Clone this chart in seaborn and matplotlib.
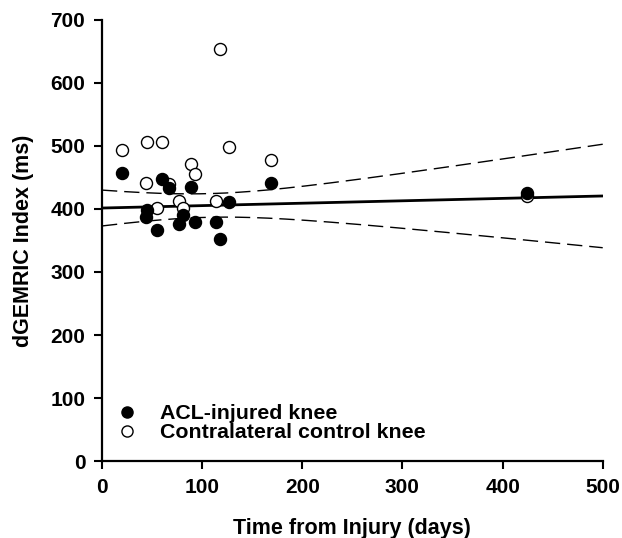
import numpy as np
import matplotlib
matplotlib.use("Agg")
import matplotlib.pyplot as plt
from matplotlib.lines import Line2D
import seaborn as sns

sns.set_style("ticks")
plt.rcParams['font.family'] = ['Liberation Sans', 'DejaVu Sans']
plt.rcParams['font.weight'] = 'bold'
for key in ['text.color', 'axes.labelcolor', 'xtick.color', 'ytick.color', 'axes.edgecolor']:
    plt.rcParams[key] = 'black'

# ---- data (days since injury, dGEMRIC index in ms) ----
days = [20, 45, 60, 118, 127, 169, 89, 93, 44, 67, 77, 55, 81, 114, 424]
acl_injured = [457, 398, 448, 353, 411, 442, 435, 380, 387, 434, 376, 367, 390, 380, 425]
contralateral = [494, 506, 506, 654, 498, 477, 471, 455, 442, 439, 413, 402, 402, 413, 421]

x_ticks = [0, 100, 200, 300, 400, 500]
y_ticks = [0, 100, 200, 300, 400, 500, 600, 700]

T_975_DF13 = 2.160  # two sided 95% t value, n-2 = 13

# ---- linear fit + 95% confidence band on the ACL-injured knees ----
x = np.array(days, dtype=float)
y = np.array(acl_injured, dtype=float)
slope, intercept = np.polyfit(x, y, 1)
resid = y - (slope * x + intercept)
s_err = np.sqrt(np.sum(resid ** 2) / (len(x) - 2))
sxx = np.sum((x - x.mean()) ** 2)

x_fit = np.linspace(0, 500, 200)
y_fit = slope * x_fit + intercept
half = T_975_DF13 * s_err * np.sqrt(1 / len(x) + (x_fit - x.mean()) ** 2 / sxx)

# ---- plot ----
fig = plt.figure(figsize=(6.22, 5.38), dpi=100)
ax = fig.add_axes([0.164, 0.143, 0.805, 0.82])

sns.scatterplot(x=days, y=contralateral, ax=ax, s=75, color='white',
                edgecolor='black', linewidth=1.0, zorder=3)
sns.scatterplot(x=days, y=acl_injured, ax=ax, s=75, color='black',
                edgecolor='black', linewidth=1.0, zorder=4)

ax.plot(x_fit, y_fit, color='black', lw=2.0, zorder=2)
ax.plot(x_fit, y_fit + half, color='black', lw=1.0, dashes=(11, 5), zorder=2)
ax.plot(x_fit, y_fit - half, color='black', lw=1.0, dashes=(11, 5), zorder=2)

ax.set_xlim(0, 500)
ax.set_ylim(0, 700)
ax.set_xticks(x_ticks)
ax.set_yticks(y_ticks)
ax.tick_params(direction='out', length=6, width=1.5, labelsize=15, pad=6)
for lab in ax.get_xticklabels() + ax.get_yticklabels():
    lab.set_fontweight('bold')
for side in ['left', 'bottom']:
    ax.spines[side].set_linewidth(1.6)
sns.despine(ax=ax)
ax.set_xlabel('Time from Injury (days)', fontsize=15.5, fontweight='bold', labelpad=15)
ax.set_ylabel('dGEMRIC Index (ms)', fontsize=15.5, fontweight='bold', labelpad=12)

handles = [
    Line2D([], [], marker='o', ls='', color='black', markersize=8),
    Line2D([], [], marker='o', ls='', markerfacecolor='white',
           markeredgecolor='black', markeredgewidth=1.0, markersize=8),
]
ax.legend(handles, ['ACL-injured knee', 'Contralateral control knee'],
          loc='lower left', bbox_to_anchor=(0.010, 0.043), frameon=False,
          borderaxespad=0, borderpad=0, labelspacing=0.0, handlelength=1.9,
          handletextpad=0.6, prop={'weight': 'bold', 'size': 15.4})

fig.savefig('out.png', dpi=100)
